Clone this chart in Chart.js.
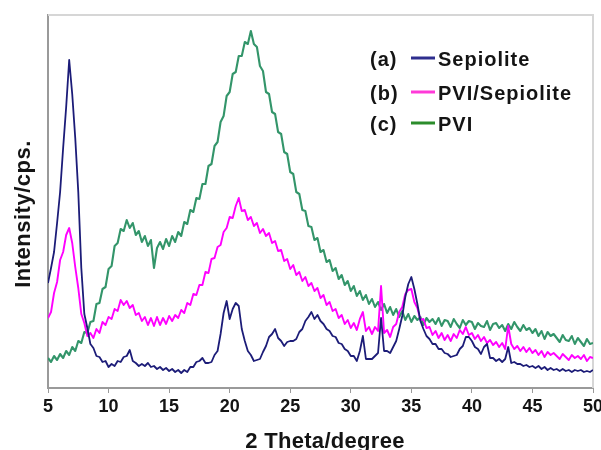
<!DOCTYPE html>
<html><head><meta charset="utf-8">
<script src="https://cdn.jsdelivr.net/npm/chart.js@4.4.1/dist/chart.umd.min.js"></script>
<style>html,body{margin:0;padding:0;background:#fff}#wrap{width:601px;height:450px}</style>
</head><body><div id="wrap"><canvas id="c" width="601" height="450"></canvas></div>
<script>
// 2 Theta sampling: start and step (degrees); one value per step in each series
const thetaStart = 5;
const thetaStep = 0.25;

// (a) Sepiolite intensity (arbitrary units)
const sepiolite = [
105,120,136,165, 196,240,281,328, 294,250,196,120, 74,60,44,40,
32,31,26,27, 21,24,22,27, 26,31,32,38, 27,25,22,24,
22,25,21,22, 19,21,18,20, 17,19,16,18, 15,18,16,21,
21,26,27,30, 25,25,26,33, 37,54,75,87, 69,79,85,82,
59,47,37,33, 27,28,29,36, 42,51,54,59, 50,47,42,46,
47,47,49,56, 59,67,71,76, 69,73,67,64, 59,57,52,51,
45,44,39,37, 32,32,27,37, 52,29,29,29, 32,35,70,37,
37,35,41,47, 59,72,91,104, 111,99,84,67, 59,52,49,44,
44,39,39,35, 34,31,32,33, 39,42,51,51, 47,41,39,34,
41,44,30,30, 27,29,26,29, 41,25,26,24, 24,22,23,21,
22,20,22,19, 21,18,20,18, 19,17,19,17, 18,16,18,17,
18,16,17,16, 18
];

// (b) PVI/Sepiolite
const pviSepiolite = [
70,76,95,106, 128,136,153,160, 145,121,100,74, 65,52,55,50,
59,55,66,63, 71,69,79,77, 88,83,87,80, 83,73,75,67,
71,63,70,62, 71,63,70,64, 72,67,73,70, 78,75,85,83,
94,93,103,103, 116,115,129,130, 141,143,156,160, 171,170,182,190,
177,178,168,171, 162,165,155,159, 152,155,145,147, 137,138,127,129,
119,123,113,116, 107,111,102,105, 97,100,90,93, 83,86,77,79,
70,73,64,68, 60,65,58,69, 76,57,61,54, 61,57,102,55,
58,51,61,64, 76,81,94,98, 99,86,80,68, 69,60,61,53,
57,50,55,48, 53,47,54,50, 58,54,61,53, 55,49,53,47,
51,45,48,43, 46,41,45,39, 62,44,39,42, 37,41,36,40,
35,38,33,37, 31,36,33,35, 32,29,34,31, 28,33,30,32,
29,33,27,31, 30
];

// (c) PVI
const pvi = [
30,26,32,28, 34,30,37,33, 41,37,47,45, 56,55,66,67,
84,85,99,101, 119,122,142,145, 159,157,168,160, 165,153,157,146,
152,142,148,120, 140,146,139,149, 142,152,146,156, 152,166,164,178,
176,190,189,204, 204,222,224,242, 246,266,272,292, 296,314,316,332,
332,346,344,357, 344,341,322,317, 296,294,276,274, 256,254,236,234,
216,214,196,194, 178,177,162,161, 148,150,136,138, 126,128,117,120,
109,113,103,107, 97,102,92,97, 88,93,84,89, 81,86,78,84,
75,81,73,79, 71,77,68,74, 66,72,68,71, 63,70,66,69,
64,70,62,68, 67,61,69,64, 60,68,63,67, 66,59,65,62,
61,67,58,64, 65,60,63,57, 64,59,66,61, 57,63,58,60,
55,59,52,57, 49,56,52,54, 50,46,53,48, 47,52,44,50,
46,42,49,44, 45
];

const xTicks = [5, 10, 15, 20, 25, 30, 35, 40, 45, 50];
const seriesLabels = ['Sepiolite', 'PVI/Sepiolite', 'PVI'];
const legendTags = ['(a)', '(b)', '(c)'];
const xTitle = '2 Theta/degree';
const yTitle = 'Intensity/cps.';

const lineColors = ['#1c1c78', '#ff00ff', '#33956a'];
const legendColors = ['#2e2e8e', '#ff3ad8', '#2b8c2b'];
const lineWidths = [1.8, 1.9, 2.1];

const theta = sepiolite.map((_, i) => thetaStart + i * thetaStep);
const toPts = arr => arr.map((v, i) => ({ x: theta[i], y: v }));
const seriesData = [sepiolite, pviSepiolite, pvi];

const FONT = '"Liberation Sans", Arial, sans-serif';

const deco = {
  id: 'deco',
  beforeDatasetsDraw(chart) {
    const { ctx, chartArea: a } = chart;
    ctx.save();
    ctx.strokeStyle = '#d6d6d6';
    ctx.lineWidth = 2;
    ctx.beginPath();
    ctx.moveTo(a.left, a.top);
    ctx.lineTo(a.right, a.top);
    ctx.lineTo(a.right, a.bottom);
    ctx.stroke();
    ctx.restore();
  },
  afterDraw(chart) {
    const { ctx } = chart;
    ctx.save();
    ctx.fillStyle = '#141414';
    ctx.font = 'bold 22px ' + FONT;
    ctx.letterSpacing = '0.3px';
    ctx.textAlign = 'center';
    ctx.textBaseline = 'alphabetic';
    ctx.fillText(xTitle, 325, 448);
    ctx.save();
    ctx.translate(30, 214);
    ctx.rotate(-Math.PI / 2);
    ctx.letterSpacing = '0.5px';
    ctx.fillText(yTitle, 0, 0);
    ctx.restore();
    ctx.font = 'bold 20px ' + FONT;
    ctx.letterSpacing = '1px';
    ctx.textAlign = 'left';
    const rows = [59, 93, 124];
    chart.data.datasets.forEach((ds, i) => {
      const y = rows[i];
      ctx.fillStyle = '#141414';
      ctx.fillText(legendTags[i], 370, y + 7);
      ctx.strokeStyle = legendColors[i];
      ctx.lineWidth = 3;
      ctx.beginPath();
      ctx.moveTo(411, y - 1);
      ctx.lineTo(435, y - 1);
      ctx.stroke();
      ctx.fillText(ds.label, 438, y + 7);
    });
    ctx.restore();
  }
};

new Chart(document.getElementById('c'), {
  type: 'line',
  data: {
    datasets: seriesData.map((arr, i) => ({
      label: seriesLabels[i],
      data: toPts(arr),
      borderColor: lineColors[i],
      borderWidth: lineWidths[i],
      borderJoinStyle: 'round',
      pointRadius: 0,
      tension: 0,
      fill: false
    }))
  },
  options: {
    responsive: false,
    animation: false,
    devicePixelRatio: 1,
    layout: { autoPadding: false, padding: { left: 48, right: 8, top: 15, bottom: 0 } },
    plugins: { legend: { display: false }, tooltip: { enabled: false } },
    scales: {
      x: {
        type: 'linear',
        min: 5, max: 50,
        afterBuildTicks: s => { s.ticks = xTicks.map(v => ({ value: v })); },
        afterFit: s => { s.height = 62; s.paddingLeft = 0; s.paddingRight = 0; },
        grid: { drawOnChartArea: false, drawTicks: true, tickLength: 5, color: '#9a9a9a', lineWidth: 1 },
        border: { display: true, color: '#9a9a9a', width: 2 },
        ticks: { color: '#141414', padding: 3, maxRotation: 0, font: { family: FONT, size: 18, weight: 'bold' } }
      },
      y: {
        min: 0, max: 373,
        afterFit: s => { s.width = 0; },
        grid: { display: false },
        border: { display: true, color: '#9a9a9a', width: 2 },
        ticks: { display: false }
      }
    }
  },
  plugins: [deco]
});
</script>
</body></html>
